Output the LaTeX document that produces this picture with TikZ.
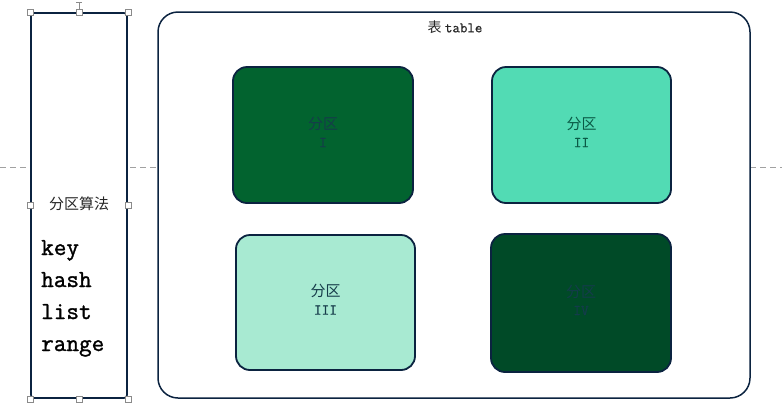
\documentclass[tikz,border=0pt]{standalone}
\usepackage{fontspec}
\newfontfamily\cjk{Noto Sans CJK SC}
\newfontfamily\kwfont[FakeBold=1.3]{Latin Modern Mono}
\newfontfamily\rnfont[FakeBold=0.6]{Latin Modern Mono}
\usetikzlibrary{positioning}
\definecolor{navy}{HTML}{0B2340}
\definecolor{pI}{HTML}{02632F}
\definecolor{pII}{HTML}{52DBB4}
\definecolor{pIII}{HTML}{A8EAD2}
\definecolor{pIV}{HTML}{004A27}
\definecolor{ptext}{HTML}{163C4A}
\definecolor{ptextII}{HTML}{0A5A46}
\definecolor{ptextIV}{HTML}{143C4B}
\definecolor{handle}{HTML}{8A8A8A}
\tikzset{
  part/.style={draw=navy, line width=1.8pt, rounded corners=14pt, minimum width=180pt, minimum height=136pt, inner sep=0pt},
  plabel/.style={text=ptext, align=center, font=\cjk\fontsize{15}{19}\selectfont},
  hnd/.style={draw=handle, fill=white, line width=0.6pt, minimum size=6pt, inner sep=0pt},
  keyword/.style={font=\kwfont\fontsize{24.5}{24.5}\selectfont, anchor=base west, inner sep=0pt},
}
\newcommand{\rnum}[1]{{\rnfont\fontsize{15}{15}\selectfont #1}}
\begin{document}
\begin{tikzpicture}[x=1pt,y=-1pt]
\useasboundingbox (0,0) rectangle (782,405);
% dashed guide line
\draw[handle!80, dash pattern=on 6pt off 4pt, line width=0.8pt] (0,167) -- (782,167);
% table box
\node[draw=navy, line width=1.5pt, fill=white, rounded corners=20pt, minimum width=592pt, minimum height=386pt, inner sep=0pt] (table) at (454,205) {};
\node[text=black!85] (title) at (455,27) {{\cjk\fontsize{14}{16}\selectfont 表} {\rnfont\fontsize{14.5}{16}\selectfont table}};
% partitions
\node[part, fill=pI] (p1) at (323,135) {};
\node[plabel] (l1) at ([yshift=3pt]p1.center) {分区\\[-1pt]\rnum{I}};
\node[part, fill=pII, minimum width=179pt] (p2) at (581.5,135) {};
\node[plabel, text=ptextII] (l2) at ([yshift=3pt]p2.center) {分区\\[-1pt]\rnum{II}};
\node[part, fill=pIII, minimum width=179pt, minimum height=135pt] (p3) at (325.5,302.5) {};
\node[plabel] (l3) at ([yshift=3pt]p3.center) {分区\\[-1pt]\rnum{III}};
\node[part, fill=pIV, minimum height=138pt] (p4) at (581,303) {};
\node[plabel, text=ptextIV] (l4) at ([yshift=3pt]p4.center) {分区\\[-1pt]\rnum{IV}};
% left algorithm box
\node[draw=navy, line width=1.6pt, fill=white, rounded corners=3pt, minimum width=96pt, minimum height=385pt, inner sep=0pt] (algo) at (79,205.5) {};
\node[font=\cjk\fontsize{15}{17}\selectfont, text=black!85] (algotitle) at (79,204) {分区算法};
\node[keyword] (k1) at (41,255) {key};
\node[keyword] (k2) at (41,287) {hash};
\node[keyword] (k3) at (41,319) {list};
\node[keyword] (k4) at (41,351) {range};
% selection handles
\coordinate (rt) at (79,2);
\draw[handle, line width=0.8pt] (rt) -- (algo.north);
\draw[handle, line width=0.8pt] ([xshift=-3pt]rt) -- ([xshift=3pt]rt);
\foreach \p/\n in {north west/h1, north/h2, north east/h3, west/h4, east/h5, south west/h6, south/h7, south east/h8}
  \node[hnd] (\n) at (algo.\p) {};
\end{tikzpicture}
\end{document}
